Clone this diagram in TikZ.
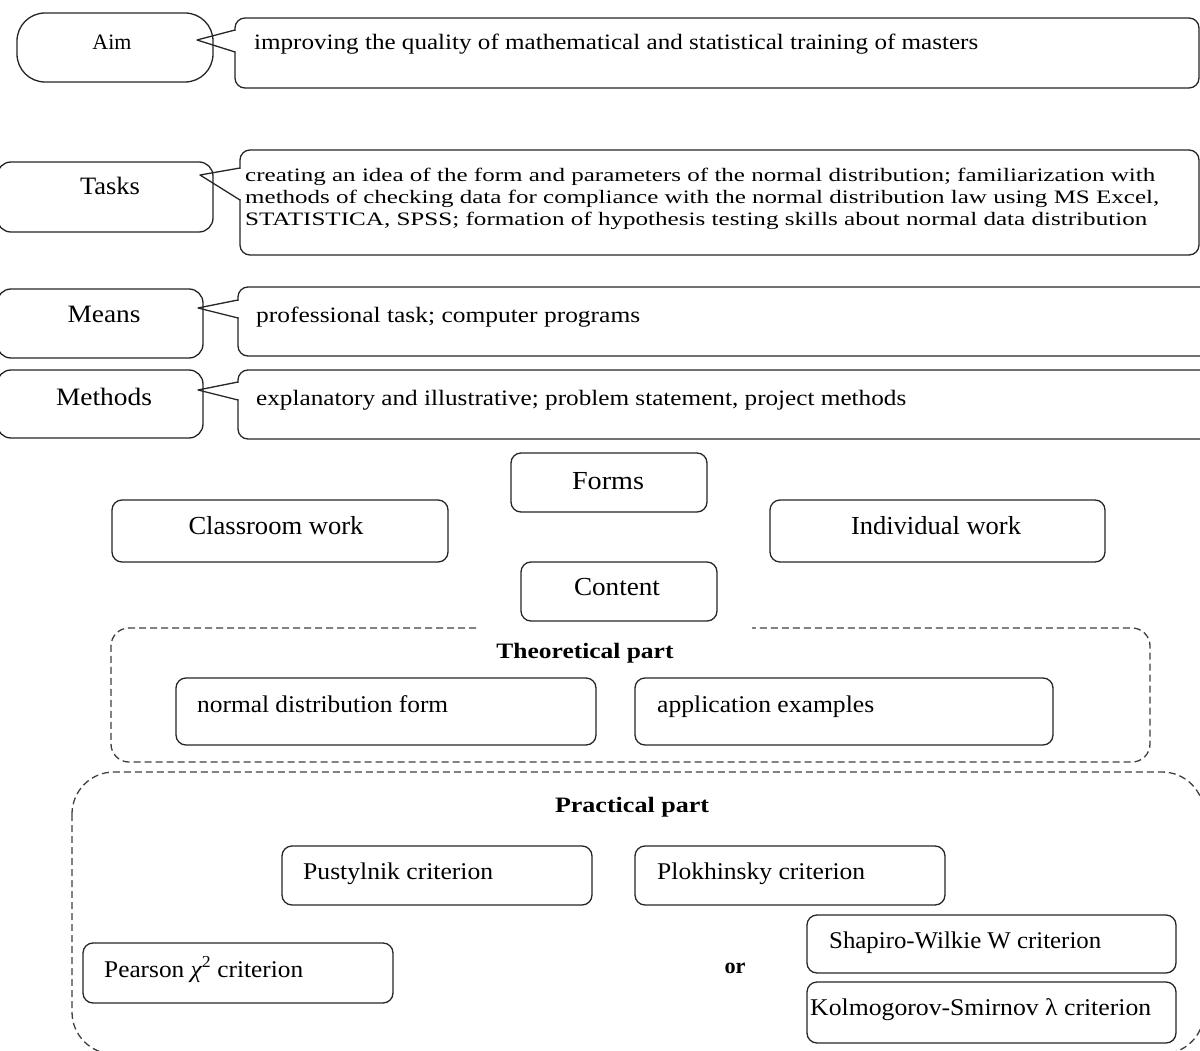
\documentclass[tikz,border=0pt]{standalone}
\usepackage{fontspec}
\setmainfont{Liberation Serif}
\usepackage{graphicx}
\newcommand{\fw}[2]{\resizebox{#1pt}{\height}{#2}}
\newcommand{\setfs}[1]{\fontsize{#1}{#1}\selectfont}
\tikzset{
  box/.style={draw=black!85, line width=1.3pt, rounded corners=10pt},
  ptr/.style={draw=black!85, line width=1.3pt, line join=round},
  dbox/.style={draw=black!75, line width=1.3pt, dash pattern=on 7pt off 4pt},
  txt/.style={inner sep=0pt, anchor=base west, text=black},
  ctxt/.style={inner sep=0pt, anchor=base, text=black},
}
\begin{document}
\begin{tikzpicture}[x=1pt,y=-1pt]
\useasboundingbox (0,0) rectangle (1200,1051);
\fill[white] (0,0) rectangle (1200,1051);

% ---- left label boxes
\draw[box, rounded corners=28pt] (17,13) rectangle (213,82);
\draw[box, rounded corners=14pt] (-3,162) rectangle (213,232);
\draw[box, rounded corners=14pt] (-3,289) rectangle (203,358);
\draw[box, rounded corners=14pt] (-3,370) rectangle (203,438);
\node[ctxt] (aimL) at (112,50) {\setfs{22}\fw{39}{Aim}};
\node[ctxt] (tasksL) at (110,195) {\setfs{25}\fw{60}{Tasks}};
\node[ctxt] (meansL) at (104,323) {\setfs{25}\fw{73}{Means}};
\node[ctxt] (methodsL) at (104,405) {\setfs{25}\fw{96}{Methods}};

% ---- callouts
\draw[box] (235,18) rectangle (1199,88);
\fill[white] (233,31) rectangle (237,51);
\draw[ptr] (235,30) -- (197,40) -- (235,52);

\draw[box] (240,150) rectangle (1199,255);
\fill[white] (238,169) rectangle (242,199);
\draw[ptr] (240,168) -- (200,175) -- (240,200);

\draw[box] (238,287) rectangle (1215,356);
\fill[white] (236,301) rectangle (240,317);
\draw[ptr] (238,300) -- (198,308) -- (238,318);

\draw[box] (238,370) rectangle (1215,439);
\fill[white] (236,383) rectangle (240,399);
\draw[ptr] (238,382) -- (198,390) -- (238,400);

\node[txt] (aimT) at (254,50) {\setfs{22}\fw{724}{improving the quality of mathematical and statistical training of masters}};
\node[txt] (tasksT1) at (245,182) {\setfs{19}\fw{910}{creating an idea of the form and parameters of the normal distribution; familiarization with}};
\node[txt] (tasksT2) at (245,204) {\setfs{19}\fw{914}{methods of checking data for compliance with the normal distribution law using MS Excel,}};
\node[txt] (tasksT3) at (245,226) {\setfs{19}\fw{902}{STATISTICA, SPSS; formation of hypothesis testing skills about normal data distribution}};
\node[txt] (meansT) at (256,323) {\setfs{22}\fw{384}{professional task; computer programs}};
\node[txt] (methodsT) at (256,405) {\setfs{22}\fw{650}{explanatory and illustrative; problem statement, project methods}};

% ---- forms / content
\draw[box] (511,453) rectangle (707,512);
\draw[box] (112,500) rectangle (448,562);
\draw[box] (770,500) rectangle (1105,562);
\draw[box] (521,562) rectangle (717,621);
\node[ctxt] (forms) at (608,489) {\setfs{26}\fw{72}{Forms}};
\node[ctxt] (classroom) at (276,534) {\setfs{26}\fw{175}{Classroom work}};
\node[ctxt] (individual) at (936,534) {\setfs{26}\fw{170}{Individual work}};
\node[ctxt] (content) at (617,595) {\setfs{26}\fw{86}{Content}};

% ---- theoretical part
\draw[dbox, rounded corners=18pt] (476,628) -- (111,628) -- (111,762) -- (1150,762) -- (1150,628) -- (752,628);
\node[ctxt] (theo) at (585,658) {\setfs{22}\bfseries\fw{177}{Theoretical part}};
\draw[box] (176,678) rectangle (596,745);
\draw[box] (635,678) rectangle (1053,745);
\node[txt] (normal) at (197,712) {\setfs{24}\fw{251}{normal distribution form}};
\node[txt] (appl) at (657,712) {\setfs{24}\fw{217}{application examples}};

% ---- practical part
\draw[dbox, rounded corners=42pt] (72,772) rectangle (1204,1054);
\node[ctxt] (prac) at (632,812) {\setfs{22}\bfseries\fw{154}{Practical part}};
\draw[box] (282,846) rectangle (592,905);
\draw[box] (635,846) rectangle (945,905);
\draw[box] (83,943) rectangle (393,1003);
\draw[box] (807,915) rectangle (1176,973);
\draw[box] (807,982) rectangle (1176,1043);
\node[txt] (pust) at (303,879) {\setfs{24}\fw{190}{Pustylnik criterion}};
\node[txt] (plok) at (657,879) {\setfs{24}\fw{208}{Plokhinsky criterion}};
\node[txt] (pear) at (104,977) {\setfs{24}\fw{199}{Pearson {\itshape χ}\textsuperscript{2} criterion}};
\node[ctxt] (or) at (735,973) {\setfs{22}\bfseries\fw{21}{or}};
\node[txt] (shap) at (829,948) {\setfs{24}\fw{272}{Shapiro-Wilkie W criterion}};
\node[txt] (kolm) at (810,1015) {\setfs{24}\fw{341}{Kolmogorov-Smirnov λ criterion}};
\end{tikzpicture}
\end{document}
